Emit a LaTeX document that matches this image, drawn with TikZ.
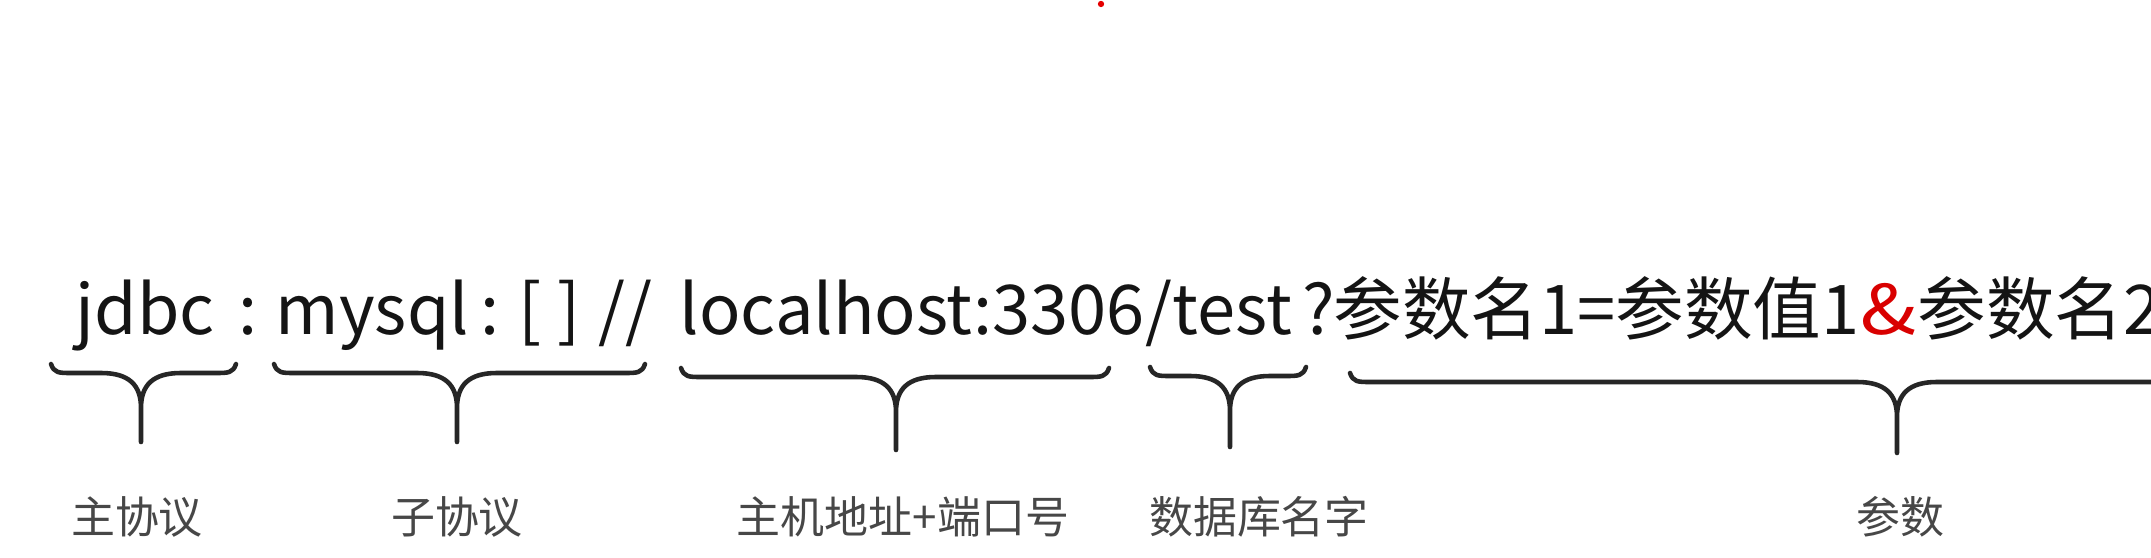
\documentclass[tikz,border=0pt]{standalone}
\usepackage{fontspec}
\setmainfont{Noto Sans CJK SC}
\begin{document}
\begin{tikzpicture}[x=0.01cm,y=-0.01cm,
  seg/.style={anchor=base west,inner sep=0,text=black!92,font=\fontsize{19.5pt}{20pt}\selectfont},
  tag/.style={inner sep=0,text=black!72,font=\fontsize{12.5pt}{13pt}\selectfont},
  brc/.style={line width=1.3pt,black!85,line cap=round,line join=round}]
\useasboundingbox[fill=white] (0,0) rectangle (2151,558);
\fill[red!90!black] (1101,4) circle[radius=0.9pt];
% url pieces
\node[seg] (jdbc) at (75,335) {jdbc};
\node[seg] (colA) at (238,335) {:};
\node[seg] (mysql) at (275,335) {mysql};
\node[seg] (colB) at (480,335) {:};
\node[seg] (brk) at (518,335) {[ ]};
\node[seg] (slash) at (598,335) {//};
\node[seg] (host) at (679,335) {localhost:3306/test};
\node[seg] (qmark) at (1302,335) {?};
\node[seg] (parA) at (1333,335) {参数名1=参数值1};
\node[seg,text=red!85!black,xscale=1.2] (amp) at (1860,335) {\&};
\node[seg] (parB) at (1917,335) {参数名2};
% braces
\foreach \a/\m/\b/\u/\v in {51/141/236/373/442, 274/457/645/373/442,
  681/896/1109/377/450, 1150/1230/1306/376/447, 1350/1897/2444/382/453}
  \draw[brc] (\a,\u-9) .. controls (\a+3,\u) and (\a+8,\u) .. (\a+20,\u) -- (\m-40,\u)
    .. controls (\m-12,\u) and (\m,\u+12) .. (\m,\u+35) -- (\m,\v)
    (\m,\u+35) .. controls (\m,\u+12) and (\m+12,\u) .. (\m+40,\u) -- (\b-20,\u)
    .. controls (\b-8,\u) and (\b-3,\u) .. (\b,\u-9);
% labels
\node[tag] (lmain) at (137,517) {主协议};
\node[tag] (lsub) at (457,517) {子协议};
\node[tag] (lhost) at (903,517) {主机地址+端口号};
\node[tag] (ldb) at (1259,517) {数据库名字};
\node[tag] (lpar) at (1900,517) {参数};
\end{tikzpicture}
\end{document}
